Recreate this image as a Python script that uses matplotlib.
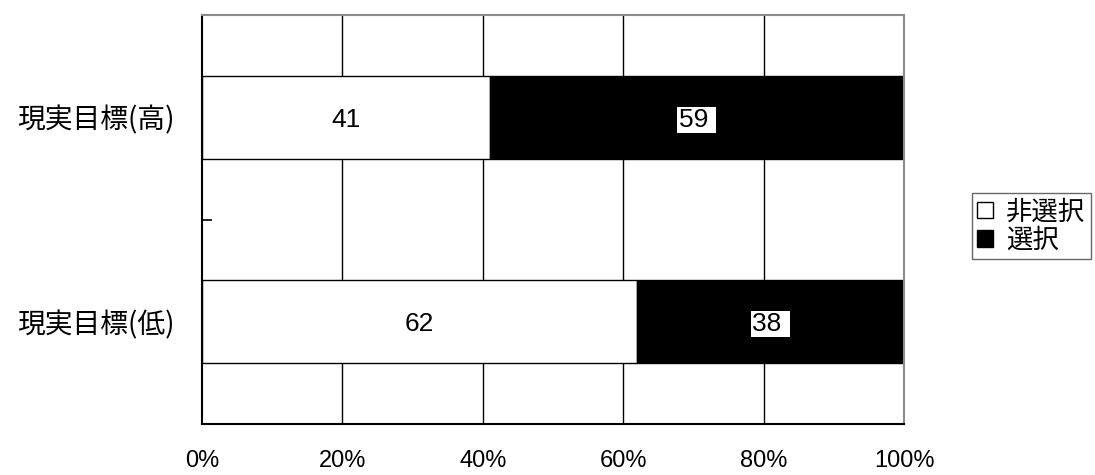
import matplotlib
matplotlib.use("Agg")
import matplotlib.pyplot as plt
from matplotlib.patches import Patch

# Data
categories = ["現実目標(低)", "現実目標(高)"]
not_selected = [62, 41]
selected = [38, 59]
series_names = ["非選択", "選択"]
x_ticks = [0, 20, 40, 60, 80, 100]
x_tick_labels = ["0%", "20%", "40%", "60%", "80%", "100%"]

cjk = ["Noto Sans CJK JP", "DejaVu Sans"]
num_font = "Liberation Sans"

fig = plt.figure(figsize=(10.95, 4.75), dpi=100)
ax = fig.add_axes([202 / 1095, 1 - 424 / 475, (904 - 202) / 1095, (424 - 15) / 475])

ypos = list(range(len(categories)))
bar_h = 0.406

# vertical grid behind bars
for x in x_ticks[1:-1]:
    ax.axvline(x, color="black", lw=1.0, zorder=1)

ax.barh(ypos, not_selected, height=bar_h, color="white", edgecolor="black",
        linewidth=1.0, zorder=2)
ax.barh(ypos, selected, left=not_selected, height=bar_h, color="black",
        edgecolor="black", linewidth=1.0, zorder=2)

for y, a, b in zip(ypos, not_selected, selected):
    ax.text(a / 2, y, str(a), ha="center", va="center_baseline", fontsize=19,
            family=num_font, color="black", zorder=3)
    ax.text(a + b / 2, y, f"{b} ", ha="center", va="center_baseline", fontsize=19,
            family=num_font, color="black", zorder=3,
            bbox=dict(facecolor="white", edgecolor="none", pad=0.8))

ax.set_xlim(0, 100)
ax.set_ylim(-0.5, 1.5)

ax.set_xticks(x_ticks)
ax.set_xticklabels(x_tick_labels, family=num_font, fontsize=17)
ax.tick_params(axis="x", length=0, pad=19)

ax.set_yticks(ypos)
ax.set_yticklabels(categories, family=cjk, fontsize=20)
ax.tick_params(axis="y", length=0, pad=20)
# boundary ticks on the category axis
ax.set_yticks([-0.5, 0.5, 1.5], minor=True)
ax.tick_params(axis="y", which="minor", direction="in", length=7, width=1.2,
               color="black")

for side in ("left", "bottom"):
    ax.spines[side].set_color("black")
    ax.spines[side].set_linewidth(1.5)
for side in ("top", "right"):
    ax.spines[side].set_color("#8a8a8a")
    ax.spines[side].set_linewidth(1.5)
for sp in ax.spines.values():
    sp.set_zorder(4)

handles = [Patch(facecolor="white", edgecolor="black", lw=1.0),
           Patch(facecolor="black", edgecolor="black", lw=1.0)]
leg = fig.legend(handles, series_names, loc="upper left",
                 bbox_to_anchor=(972 / 1095, 1 - 193 / 475),
                 prop={"family": cjk, "size": 19}, frameon=True, fancybox=False,
                 edgecolor="#404040", handlelength=0.6, handleheight=0.6,
                 handletextpad=0.5, borderpad=0.2, labelspacing=0.05,
                 borderaxespad=0)
leg.get_frame().set_linewidth(1.0)

fig.savefig("out.png", dpi=100, facecolor="white")
